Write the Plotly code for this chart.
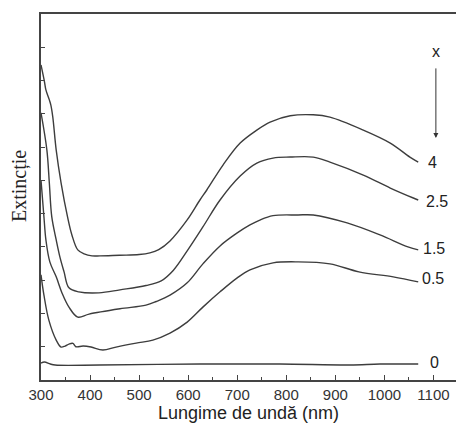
import plotly.graph_objects as go

# Wavelength (nm) and extinction (arbitrary units)
x4 = [300, 307, 310, 317, 320, 324, 331, 341, 354, 363, 375, 388, 404, 420, 460, 500, 522,
      540, 563, 598, 624, 638, 671, 706, 740, 767, 808, 855, 889, 957, 1012, 1052, 1069]
y4 = [9.47, 8.97, 8.72, 8.42, 8.27, 7.91, 6.91, 5.92, 4.91, 4.36, 3.91, 3.79, 3.73, 3.73, 3.75, 3.77, 3.82,
      3.92, 4.18, 4.81, 5.41, 5.71, 6.46, 7.12, 7.51, 7.75, 7.94, 7.97, 7.90, 7.51, 7.12, 6.70, 6.55]

x25 = [300, 312, 317, 322, 331, 339, 347, 357, 377, 418, 461, 514, 545, 570, 598, 630,
       665, 706, 740, 773, 808, 855, 889, 957, 1012, 1059, 1069]
y25 = [8.03, 6.91, 5.92, 4.90, 4.21, 3.67, 3.25, 2.77, 2.65, 2.62, 2.71, 2.84, 2.98, 3.30, 3.88, 4.60,
       5.41, 6.13, 6.52, 6.67, 6.70, 6.70, 6.55, 6.16, 5.77, 5.47, 5.41]

x15 = [300, 306, 310, 318, 331, 343, 357, 375, 398, 461, 514, 535, 563, 598, 630, 665,
       700, 726, 745, 773, 824, 855, 924, 991, 1048, 1069]
y15 = [6.01, 4.90, 4.21, 3.55, 3.10, 2.61, 2.19, 1.89, 1.98, 2.14, 2.25, 2.36, 2.55, 2.92, 3.49, 4.03,
       4.42, 4.66, 4.80, 4.94, 4.96, 4.96, 4.72, 4.36, 4.00, 3.91]

x05 = [300, 306, 316, 331, 341, 349, 357, 365, 371, 386, 402, 426, 453, 494, 528, 563, 598,
       630, 665, 700, 726, 773, 824, 889, 948, 1018, 1069]
y05 = [3.16, 2.55, 1.80, 1.20, 0.99, 1.02, 1.08, 1.10, 1.00, 1.02, 0.99, 0.90, 0.99, 1.11, 1.20, 1.41, 1.74,
       2.19, 2.65, 3.07, 3.31, 3.52, 3.55, 3.49, 3.25, 3.10, 2.95]

x0 = [300, 307, 319, 329, 420, 624, 787, 930, 991, 1069]
y0 = [0.51, 0.54, 0.48, 0.45, 0.45, 0.48, 0.48, 0.45, 0.48, 0.48]

series = [("4", x4, y4), ("2.5", x25, y25), ("1.5", x15, y15), ("0.5", x05, y05), ("0", x0, y0)]

# Curve label positions (text, wavelength, extinction)
label_text = ["4", "2.5", "1.5", "0.5", "0"]
label_x = [1099, 1107, 1101, 1099, 1103]
label_y = [6.55, 5.35, 3.94, 3.04, 0.54]

x_ticks = [300, 400, 500, 600, 700, 800, 900, 1000, 1100]
x_minor = [350, 450, 550, 650, 750, 850, 950, 1050]
y_ticks = [1, 2, 3, 4, 5, 6, 7, 8, 9, 10]

fig = go.Figure()
for name, xs, ys in series:
    fig.add_trace(go.Scatter(x=xs, y=ys, mode="lines", name=name,
                             line=dict(color="#3d3d3d", width=1.4, shape="spline", smoothing=1.0),
                             showlegend=False, hoverinfo="x+y"))

for t, lx, ly in zip(label_text, label_x, label_y):
    fig.add_annotation(x=lx, y=ly, text=t, showarrow=False, xanchor="center", yanchor="middle",
                       font=dict(family="Liberation Sans, Arial", size=16, color="#222"))

# "x" with downward arrow
fig.add_annotation(x=1105, y=9.86, text="x", showarrow=False, xanchor="center", yanchor="middle",
                   font=dict(family="Liberation Sans, Arial", size=16, color="#222"))
fig.add_annotation(x=1105, y=7.27, ax=1105, ay=9.41, xref="x", yref="y", axref="x", ayref="y",
                   text="", showarrow=True, arrowhead=2, arrowsize=1, arrowwidth=1, arrowcolor="#333")

# y-axis title (serif, rotated)
fig.add_annotation(xref="paper", yref="paper", x=-0.053, y=0.53, text="Extincție", textangle=-90,
                   showarrow=False, xanchor="center", yanchor="middle",
                   font=dict(family="Liberation Serif, Times New Roman", size=20, color="#222"))

fig.update_layout(
    width=456, height=425,
    margin=dict(l=41, r=0, t=14, b=45),
    paper_bgcolor="white", plot_bgcolor="white",
    xaxis=dict(range=[300, 1146], tickvals=x_ticks, ticks="inside", ticklen=5, tickwidth=1,
               tickcolor="#444", showgrid=False, zeroline=False, showline=True, linecolor="#444",
               linewidth=1.5, mirror=True,
               minor=dict(ticks="inside", ticklen=3, tickvals=x_minor, tickcolor="#444", showgrid=False),
               tickfont=dict(family="Liberation Sans, Arial", size=15, color="#333"),
               title=dict(text="Lungime de undă (nm)", standoff=4,
                          font=dict(family="Liberation Sans, Arial", size=18, color="#222"))),
    yaxis=dict(range=[0, 11], tickvals=y_ticks, ticks="inside", ticklen=4, tickwidth=1,
               tickcolor="#444", showticklabels=False, showgrid=False, zeroline=False,
               showline=True, linecolor="#444", linewidth=1.5, mirror=False),
)

fig.write_html("out.html", config={"displayModeBar": False},
               post_script="document.body.style.margin='0';document.body.style.overflow='hidden';")
